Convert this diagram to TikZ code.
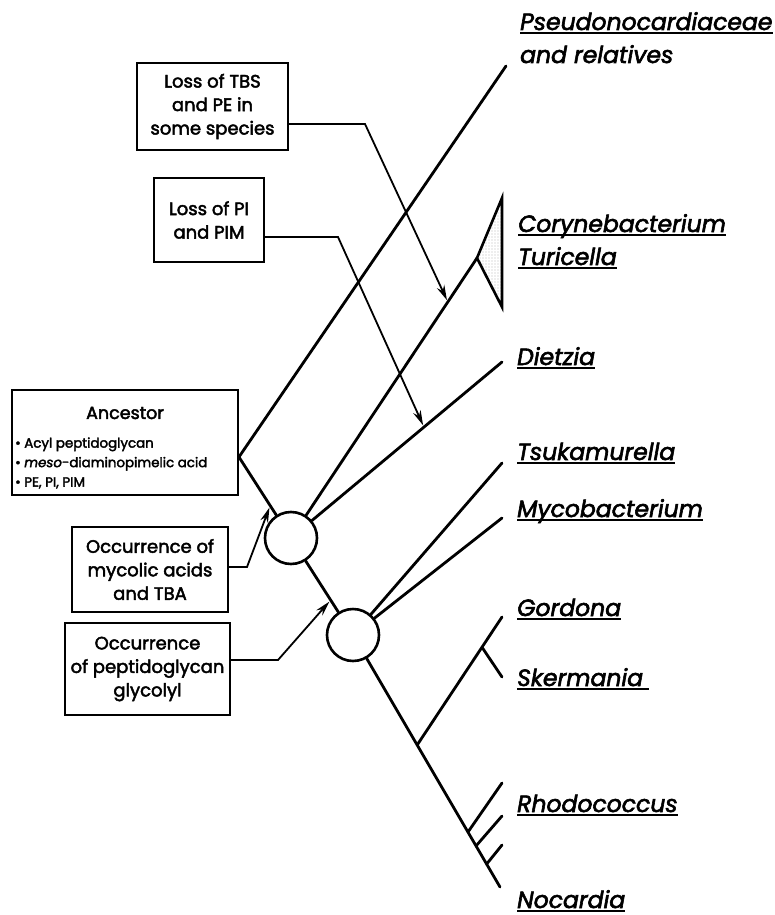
\documentclass[tikz,border=0pt]{standalone}
\usepackage{fontspec}
\setmainfont{Poppins}[UprightFeatures={FakeBold=2.5},ItalicFeatures={FakeBold=2.5}]
\usetikzlibrary{arrows.meta,calc,patterns.meta}
\tikzset{
  tree/.style={line width=2.8pt, line cap=round},
  boxnode/.style={draw, line width=1.9pt, rectangle, inner sep=0pt, align=center,
    font=\fontsize{18}{23.5}\selectfont},
  conn/.style={line width=1.8pt, -{Stealth[length=15pt,width=8pt]}, shorten >=2pt},
  species/.style={anchor=base west, inner sep=0pt, font=\fontsize{23.5}{28}\selectfont\itshape},
  ulinestyle/.style={line width=2pt},
  nodecircle/.style={circle, draw, line width=2.6pt, minimum size=52pt, inner sep=0pt},
}
\begin{document}
\begin{tikzpicture}[x=1pt,y=-1pt]
\useasboundingbox (0,0) rectangle (775,915);

% boxes
\node[boxnode, minimum width=151pt, minimum height=87pt] (tbs) at (212.5,106.5)
  {Loss of TBS\\and PE in\\some species};
\node[boxnode, minimum width=110pt, minimum height=84pt] (pi) at (209,220)
  {Loss of PI\\and PIM};
\node[boxnode, minimum width=226pt, minimum height=105pt] (anc) at (125,442.5) {};
\node[inner sep=0pt, font=\fontsize{17.5}{20}\selectfont] (anct) at (125,413) {Ancestor};
\node[inner sep=0pt, anchor=west, align=left, font=\fontsize{13.4}{19.5}\selectfont] (ancl) at (15,463)
  {\textbullet\ Acyl peptidoglycan\\\textbullet\ \textit{meso}-diaminopimelic acid\\\textbullet\ PE, PI, PIM};
\node[boxnode, minimum width=156pt, minimum height=85pt] (myc) at (150,569.5)
  {Occurrence of\\mycolic acids\\and TBA};
\node[boxnode, minimum width=165pt, minimum height=92pt] (gly) at (147.5,669)
  {Occurrence\\of peptidoglycan\\glycolyl};

% tree
\coordinate (A) at ([yshift=-14.5pt]anc.east);
\node[nodecircle] (c1) at (291,538) {};
\node[nodecircle] (c2) at (353,635) {};
\coordinate (pend) at (506,66);
\coordinate (apex) at (477,258);
\coordinate (ttop) at (502,198);
\coordinate (tbot) at (502,307);
\coordinate (dend) at (502,362);
\coordinate (tsend) at (502,463);
\coordinate (myend) at (502,518);
\coordinate (nend) at (500,887);
\coordinate (gj) at ($(c2)!0.4365!(nend)$);
\coordinate (gend) at (502,617);
\coordinate (skj) at ($(gj)!0.764!(gend)$);
\coordinate (skend) at (502,677);
\coordinate (r1) at ($(c2)!0.782!(nend)$);
\coordinate (r2) at ($(c2)!0.837!(nend)$);
\coordinate (r3) at ($(c2)!0.909!(nend)$);
\coordinate (r1end) at (502,783);
\coordinate (r2end) at (502,816);
\coordinate (r3end) at (502,845);

\draw[tree] (A) -- (pend);
\draw[tree] (A) -- (c1);
\draw[tree] (c1) -- (c2);
\draw[tree] (c2) -- (nend);
\draw[tree] (c1) -- (apex);
\draw[line width=2.6pt, line join=miter, pattern={Dots[radius=0.45pt,distance=3pt]}, pattern color=black!80] (apex) -- (ttop) -- (tbot) -- cycle;
\draw[tree] (c1) -- (dend);
\draw[tree] (c2) -- (tsend);
\draw[tree] (c2) -- (myend);
\draw[tree] (gj) -- (gend);
\draw[tree] (skj) -- (skend);
\draw[tree] (r1) -- (r1end);
\draw[tree] (r2) -- (r2end);
\draw[tree] (r3) -- (r3end);

% connectors
\coordinate (tbsBend) at (365,124);
\coordinate (tbsTip) at ($(c1)!0.843!(apex)$);
\draw[conn] ([yshift=-17.5pt]tbs.east) -- (tbsBend) -- (tbsTip);
\coordinate (piBend) at (338,237);
\coordinate (piTip) at ($(c1)!0.63!(dend)$);
\draw[conn] ([yshift=-17pt]pi.east) -- (piBend) -- (piTip);
\coordinate (mycBend) at (247,567);
\coordinate (mycTip) at ($(A)!0.6!(c1)$);
\draw[conn] ([yshift=2.5pt]myc.east) -- (mycBend) -- (mycTip);
\coordinate (glyBend) at (278,660);
\coordinate (glyTip) at ($(c1)!0.64!(c2)$);
\draw[conn] ([yshift=9pt]gly.east) -- (glyBend) -- (glyTip);

% labels
\node[species] (lpseudo) at (520,30) {Pseudonocardiaceae};
\node[species] (lrel) at (520,63) {and relatives};
\node[species] (lcory) at (518,232) {Corynebacterium};
\node[species] (lturi) at (518,265) {Turicella};
\node[species] (ldiet) at (517,365) {Dietzia};
\node[species] (ltsuk) at (517,460) {Tsukamurella};
\node[species] (lmyco) at (517,517) {Mycobacterium};
\node[species] (lgord) at (517,616) {Gordona};
\node[species] (lsker) at (517,686) {Skermania};
\node[species] (lrhod) at (517,812) {Rhodococcus};
\node[species] (lnoca) at (517,908) {Nocardia};
\foreach \n in {lpseudo,lcory,lturi,ldiet,ltsuk,lmyco,lgord,lrhod,lnoca}
  \draw[ulinestyle] ([yshift=-3pt]\n.base west) -- ([yshift=-3pt]\n.base east);
\draw[ulinestyle] ([yshift=-3pt]lsker.base west) -- ([yshift=-3pt,xshift=6pt]lsker.base east);
\end{tikzpicture}
\end{document}
